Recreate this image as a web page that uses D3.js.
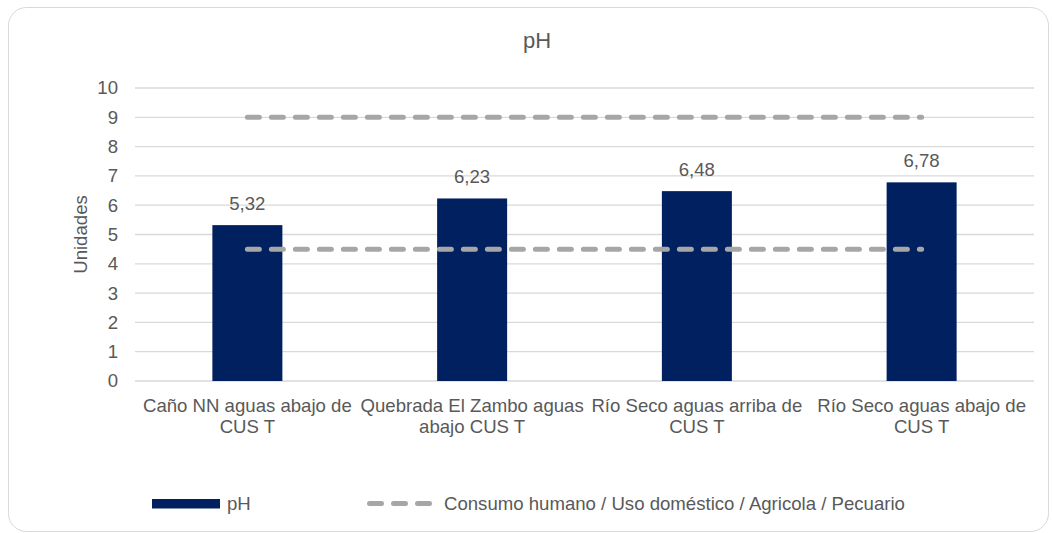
<!DOCTYPE html>
<html>
<head>
<meta charset="utf-8">
<script src="https://cdn.jsdelivr.net/npm/d3@7"></script>
<style>
  html, body { margin: 0; padding: 0; background: #fff; }
  svg { display: block; }
  text { font-family: "Liberation Sans", Arial, sans-serif; fill: #595959; }
</style>
</head>
<body>
<svg id="chart" width="1052" height="533"></svg>
<script>
const categories = [
  ["Caño NN aguas abajo de", "CUS T"],
  ["Quebrada El Zambo aguas", "abajo CUS T"],
  ["Río Seco aguas arriba de", "CUS T"],
  ["Río Seco aguas abajo de", "CUS T"]
];
const phValues = [5.32, 6.23, 6.48, 6.78];
const limitUpper = [9, 9, 9, 9];
const limitLower = [4.5, 4.5, 4.5, 4.5];
const yTicks = [0, 1, 2, 3, 4, 5, 6, 7, 8, 9, 10];
const titleText = "pH";
const yTitle = "Unidades";
const legendBar = "pH";
const legendLine = "Consumo humano / Uso doméstico / Agricola / Pecuario";

const svg = d3.select("#chart");
const fs = 18.6;
const navy = "#002060";
const dashGrey = "#a6a6a6";

// outer border
svg.append("rect")
  .attr("x", 8.5).attr("y", 7.5).attr("width", 1040).attr("height", 524)
  .attr("rx", 18).attr("ry", 18)
  .attr("fill", "#fff").attr("stroke", "#d9d9d9").attr("stroke-width", 1);

const plotLeft = 135, plotRight = 1034, plotTop = 88, plotBottom = 381;

const x = d3.scaleBand()
  .domain(d3.range(categories.length))
  .range([plotLeft, plotRight])
  .paddingInner(0.6885)
  .paddingOuter(0.6885 / 2);
const y = d3.scaleLinear().domain([0, 10]).range([plotBottom, plotTop]);

// gridlines
svg.append("g").selectAll("line").data(yTicks).join("line")
  .attr("x1", plotLeft).attr("x2", plotRight)
  .attr("y1", d => y(d)).attr("y2", d => y(d))
  .attr("stroke", "#d9d9d9").attr("stroke-width", 1.3);

// y axis labels via d3 axis
const yAxis = d3.axisLeft(y).tickValues(yTicks).tickSize(0).tickPadding(17)
  .tickFormat(d3.format("d"));
const gy = svg.append("g").attr("transform", `translate(${plotLeft},0)`).call(yAxis);
gy.select(".domain").remove();
gy.selectAll("text").attr("font-size", fs)
  .attr("font-family", "Liberation Sans, Arial, sans-serif").attr("fill", "#595959");

// bars
svg.append("g").selectAll("rect").data(phValues).join("rect")
  .attr("x", (d, i) => x(i))
  .attr("width", x.bandwidth())
  .attr("y", d => y(d))
  .attr("height", d => y(0) - y(d))
  .attr("fill", navy);

// data labels
svg.append("g").selectAll("text").data(phValues).join("text")
  .attr("x", (d, i) => x(i) + x.bandwidth() / 2)
  .attr("y", d => y(d) - 15)
  .attr("text-anchor", "middle")
  .attr("font-size", fs)
  .text(d => d.toFixed(2).replace(".", ","));

// limit lines
const lineGen = d3.line()
  .x((d, i) => x(i) + x.bandwidth() / 2)
  .y(d => y(d));
[limitUpper, limitLower].forEach(arr => {
  svg.append("path")
    .datum(arr)
    .attr("d", lineGen)
    .attr("fill", "none")
    .attr("stroke", dashGrey)
    .attr("stroke-width", 5)
    .attr("stroke-dasharray", "12 12")
    .attr("stroke-linecap", "round");
});

// category labels
const gx = svg.append("g");
categories.forEach((lines, i) => {
  const t = gx.append("text")
    .attr("x", x(i) + x.bandwidth() / 2)
    .attr("y", 412)
    .attr("text-anchor", "middle")
    .attr("font-size", fs);
  lines.forEach((ln, j) => {
    t.append("tspan")
      .attr("x", x(i) + x.bandwidth() / 2)
      .attr("y", 412 + j * 20.5)
      .text(ln);
  });
});

// title
svg.append("text")
  .attr("x", 537).attr("y", 48)
  .attr("text-anchor", "middle")
  .attr("font-size", 22)
  .text(titleText);

// y title
svg.append("text")
  .attr("transform", `translate(87, ${(plotTop + plotBottom) / 2}) rotate(-90)`)
  .attr("text-anchor", "middle")
  .attr("font-size", fs)
  .text(yTitle);

// legend
const lg = svg.append("g");
lg.append("rect")
  .attr("x", 152).attr("y", 499).attr("width", 68).attr("height", 9.5)
  .attr("fill", navy);
lg.append("text").attr("x", 227).attr("y", 510).attr("font-size", fs).text(legendBar);
lg.append("line")
  .attr("x1", 369.5).attr("x2", 429.5).attr("y1", 503.5).attr("y2", 503.5)
  .attr("stroke", dashGrey).attr("stroke-width", 5)
  .attr("stroke-dasharray", "12 12").attr("stroke-linecap", "round");
lg.append("text").attr("x", 444).attr("y", 510).attr("font-size", fs).text(legendLine);
</script>
</body>
</html>
